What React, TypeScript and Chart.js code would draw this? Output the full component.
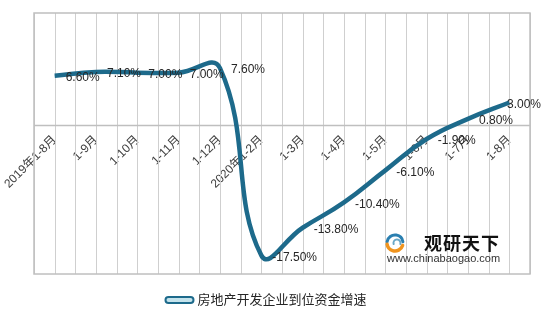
import React, { useEffect, useRef } from "react";
import { Chart, registerables } from "chart.js";
Chart.register(...registerables);

const categories = ["2019年1-8月", "1-9月", "1-10月", "1-11月", "1-12月", "2020年1-2月", "1-3月", "1-4月", "1-5月", "1-6月", "1-7月", "1-8月"];
const growth = [6.6, 7.1, 7.0, 7.0, 7.6, -17.5, -13.8, -10.4, -6.1, -1.9, 0.8, 3.0];
const valueLabels = ["6.60%", "7.10%", "7.00%", "7.00%", "7.60%", "-17.50%", "-13.80%", "-10.40%", "-6.10%", "-1.90%", "0.80%", "3.00%"];
const seriesName = "房地产开发企业到位资金增速";
const yMin = -20;
const yMax = 15;

const FONT = "'Liberation Sans', Arial, 'Noto Sans CJK SC', sans-serif";
const LINE_DARK = "#1d6a8b";
const LINE_LIGHT = "#c4e3ec";

const framePlugin = {
  id: "frame",
  beforeDatasetsDraw(chart: any) {
    const { ctx, chartArea } = chart;
    const x = chart.scales.x;
    const y = chart.scales.y;
    const n = categories.length;
    const step = x.getPixelForValue(1) - x.getPixelForValue(0);
    ctx.save();
    ctx.strokeStyle = "#cfcfcf";
    ctx.lineWidth = 1;
    for (let i = 0; i < n; i++) {
      const c = x.getPixelForValue(i);
      const xs = [c - step / 2, c];
      if (i === n - 1) xs.push(c + step / 2);
      xs.forEach((px) => {
        const p = Math.round(px) + 0.5;
        ctx.beginPath();
        ctx.moveTo(p, chartArea.top);
        ctx.lineTo(p, chartArea.bottom);
        ctx.stroke();
      });
    }
    ctx.strokeStyle = "#bfbfbf";
    ctx.lineWidth = 1.5;
    ctx.strokeRect(chartArea.left, chartArea.top, chartArea.right - chartArea.left, chartArea.bottom - chartArea.top);
    const zy = Math.round(y.getPixelForValue(0)) + 0.5;
    ctx.beginPath();
    ctx.moveTo(chartArea.left, zy);
    ctx.lineTo(chartArea.right, zy);
    ctx.stroke();
    ctx.restore();
  },
};

const labelPlugin = {
  id: "valueLabels",
  afterDatasetsDraw(chart: any) {
    const { ctx } = chart;
    const meta = chart.getDatasetMeta(0);
    ctx.save();
    ctx.font = `12px ${FONT}`;
    ctx.fillStyle = "#262626";
    ctx.textAlign = "left";
    ctx.textBaseline = "middle";
    meta.data.forEach((pt: any, i: number) => {
      const txt = valueLabels[i];
      const w = ctx.measureText(txt).width;
      let tx = pt.x + 11;
      if (tx + w > chart.width - 3) tx = chart.width - 3 - w;
      ctx.fillText(txt, tx, pt.y + 2);
    });
    ctx.restore();
  },
};

const legendPlugin = {
  id: "customLegend",
  afterDraw(chart: any) {
    const { ctx, chartArea } = chart;
    ctx.save();
    ctx.font = `13px ${FONT}`;
    const tw = ctx.measureText(seriesName).width;
    const boxW = 28;
    const gap = 4;
    const total = boxW + gap + tw;
    const cx = (chartArea.left + chartArea.right) / 2 - 16;
    const x0 = cx - total / 2;
    const yc = chartArea.bottom + 26;
    ctx.fillStyle = LINE_LIGHT;
    ctx.strokeStyle = LINE_DARK;
    ctx.lineWidth = 2;
    ctx.beginPath();
    (ctx as any).roundRect(x0, yc - 3, boxW, 6, 3);
    ctx.fill();
    ctx.stroke();
    ctx.fillStyle = "#262626";
    ctx.textAlign = "left";
    ctx.textBaseline = "middle";
    ctx.fillText(seriesName, x0 + boxW + gap, yc);
    ctx.restore();
  },
};

const watermarkPlugin = {
  id: "watermark",
  afterDraw(chart: any) {
    const { ctx, chartArea } = chart;
    const bx = chartArea.right - 145;
    const by = chartArea.bottom - 40;
    ctx.save();
    ctx.lineCap = "round";
    ctx.strokeStyle = "#2a7fb0";
    ctx.lineWidth = 3;
    ctx.beginPath();
    ctx.arc(bx + 10, by + 9, 8, Math.PI * 1.05, Math.PI * 1.95);
    ctx.stroke();
    ctx.strokeStyle = "#f0941e";
    ctx.lineWidth = 3.5;
    ctx.beginPath();
    ctx.arc(bx + 10, by + 9, 8, Math.PI * 0.1, Math.PI * 0.95);
    ctx.stroke();
    ctx.strokeStyle = "#6aa8c8";
    ctx.lineWidth = 2;
    ctx.beginPath();
    ctx.arc(bx + 12, by + 9, 3.5, Math.PI * 0.9, Math.PI * 2.1);
    ctx.stroke();
    ctx.fillStyle = "#111111";
    ctx.font = `bold 18px 'Noto Sans CJK SC', sans-serif`;
    (ctx as any).letterSpacing = "1px";
    ctx.textAlign = "left";
    ctx.textBaseline = "middle";
    ctx.fillText("观研天下", bx + 39, by + 9);
    (ctx as any).letterSpacing = "0px";
    ctx.fillStyle = "#333333";
    ctx.font = `11px ${FONT}`;
    ctx.fillText("www.chinabaogao.com", bx + 2, by + 25);
    ctx.restore();
  },
};

export default function App() {
  const ref = useRef<HTMLCanvasElement | null>(null);
  useEffect(() => {
    document.body.style.margin = "0";
    const canvas = ref.current;
    if (!canvas) return;
    const chart = new Chart(canvas, {
      type: "line",
      data: {
        labels: categories,
        datasets: [
          {
            label: seriesName,
            data: growth,
            borderColor: LINE_DARK,
            backgroundColor: LINE_LIGHT,
            borderWidth: 4.5,
            tension: 0.45,
            pointRadius: 0,
            fill: false,
          },
          {
            label: "_inner",
            data: growth,
            borderColor: LINE_LIGHT,
            borderWidth: 1.2,
            tension: 0.45,
            pointRadius: 0,
            fill: false,
          },
        ],
      },
      options: {
        responsive: false,
        animation: false,
        devicePixelRatio: 1,
        layout: { padding: { left: 34, right: 14, top: 13, bottom: 43 } },
        plugins: {
          tooltip: { enabled: false },
          legend: { display: false },
        },
        scales: {
          x: {
            type: "category",
            offset: true,
            position: { y: 0 } as any,
            grid: { display: false, drawTicks: false },
            border: { display: false },
            ticks: {
              autoSkip: false,
              maxRotation: 45,
              minRotation: 45,
              padding: 8,
              color: "#404040",
              font: { family: FONT, size: 12 },
            },
            afterFit: (scale: any) => {
              scale.paddingLeft = 0;
              scale.paddingRight = 0;
              scale.paddingTop = 0;
              scale.paddingBottom = 0;
            },
          },
          y: {
            display: false,
            min: yMin,
            max: yMax,
          },
        },
      },
      plugins: [framePlugin, labelPlugin, legendPlugin, watermarkPlugin],
    });
    return () => chart.destroy();
  }, []);
  return (
    <div style={{ position: "absolute", left: 0, top: 0, width: 544, height: 317 }}>
      <canvas ref={ref} width={544} height={317} style={{ width: 544, height: 317, display: "block" }} />
    </div>
  );
}
